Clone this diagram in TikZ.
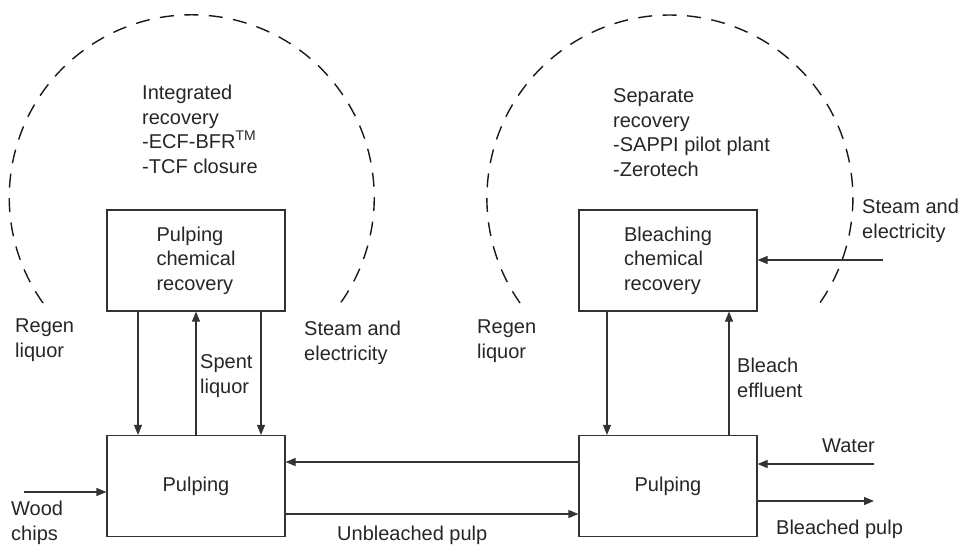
\documentclass[tikz,border=0pt]{standalone}
\usepackage{fontspec}
\setmainfont{Liberation Sans}
\usetikzlibrary{arrows.meta}
\begin{document}
\begin{tikzpicture}[x=1pt,y=-1pt,
  every node/.style={inner sep=0pt, text=black!85},
  % multi-line labels sit on the baseline of their last line
  lbl/.style={anchor=base west, align=left, font=\fontsize{20}{24.5}\selectfont},
  unit/.style={draw=black!80, line width=1.2pt, minimum width=178pt, minimum height=101pt,
    align=left, font=\fontsize{20}{24.5}\selectfont},
  flow/.style={draw=black!80, line width=1.2pt, -{Triangle[length=10pt,width=8pt]}},
  boundary/.style={draw=black!90, line width=1.4pt, dash pattern=on 14pt off 10.5pt},
]
\useasboundingbox (0,0) rectangle (961,544);

% recovery boundaries
\draw[boundary] (43,303) arc[start angle=215.4, end angle=-35.4, radius=182.5pt];
\draw[boundary] (520,303) arc[start angle=215, end angle=-35, radius=183pt];

% process units
\node[unit] (plc) at (196,260.5) {Pulping\\chemical\\recovery};
\node[unit] (pl)  at (196,486) {Pulping};
\node[unit] (bcr) at (668,260.5) {Bleaching\\chemical\\recovery};
\node[unit] (bp)  at (668,486) {Pulping};

% free ends of feed and product streams
\coordinate (wood) at (24,492);
\coordinate (water) at (874,464);
\coordinate (bleached) at (874,501);
\coordinate (steam) at (883,260);

% streams
\draw[flow] ([xshift=-58pt]plc.south) -- ([xshift=-58pt]pl.north);
\draw[flow] ([xshift=65pt]plc.south) -- ([xshift=65pt]pl.north);
\draw[flow] (pl.north) -- (plc.south);
\draw[flow] ([xshift=-61pt]bcr.south) -- ([xshift=-61pt]bp.north);
\draw[flow] ([xshift=61pt]bp.north) -- ([xshift=61pt]bcr.south);
\draw[flow] ([yshift=24pt]bp.west) -- ([yshift=24pt]pl.east);
\draw[flow] ([yshift=-28pt]pl.east) -- ([yshift=-28pt]bp.west);
\draw[flow] (wood) -- (wood -| pl.west);
\draw[flow] (water) -- (water -| bp.east);
\draw[flow] (bleached -| bp.east) -- (bleached);
\draw[flow] (steam) -- (steam -| bcr.east);

% labels
\node[lbl] (intrec) at (142,173) {Integrated\\recovery\\-ECF-BFR\textsuperscript{TM}\\-TCF closure};
\node[lbl] (seprec) at (613,176) {Separate\\recovery\\-SAPPI pilot plant\\-Zerotech};
\node[lbl] (steamR) at (862,238) {Steam and\\electricity};
\node[lbl] (regenL) at (15,357) {Regen\\liquor};
\node[lbl] (spent)  at (200,393) {Spent\\liquor};
\node[lbl] (steamM) at (304,360) {Steam and\\electricity};
\node[lbl] (regenR) at (477,358) {Regen\\liquor};
\node[lbl] (bleach) at (737,397) {Bleach\\effluent};
\node[lbl] (waterlbl) at (822,452) {Water};
\node[lbl] (bplbl) at (776,534) {Bleached pulp};
\node[lbl] (woodlbl) at (11,540) {Wood\\chips};
\node[lbl] (ublbl) at (337,540) {Unbleached pulp};
\end{tikzpicture}
\end{document}
